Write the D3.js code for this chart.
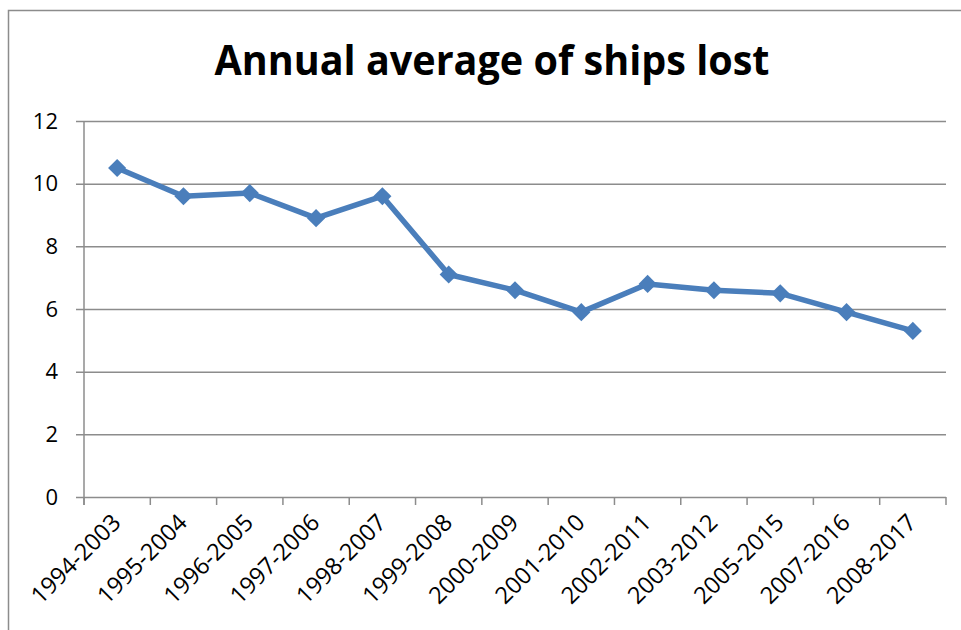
<!DOCTYPE html>
<html>
<head>
<meta charset="utf-8">
<script src="https://cdn.jsdelivr.net/npm/d3@7"></script>
<style>
  body { margin: 0; background: #fff; }
  svg { display: block; }
  text { font-family: "Open Sans", "Noto Sans", sans-serif; fill: #000; }
</style>
</head>
<body>
<div id="chart"></div>
<script>
// chart values
var periods = ["1994-2003", "1995-2004", "1996-2005", "1997-2006", "1998-2007", "1999-2008",
  "2000-2009", "2001-2010", "2002-2011", "2003-2012", "2005-2015", "2007-2016", "2008-2017"];
var shipsLost = [10.5, 9.6, 9.7, 8.9, 9.6, 7.1, 6.6, 5.9, 6.8, 6.6, 6.5, 5.9, 5.3];
var yTicks = [0, 2, 4, 6, 8, 10, 12];

var svgWidth = 961;
var svgHeight = 630;

var margin = {
  top: 121,
  right: 15,
  bottom: 133,
  left: 84
};

var chartWidth = svgWidth - margin.left - margin.right;
var chartHeight = svgHeight - margin.top - margin.bottom;

var svg = d3.select("#chart")
  .append("svg")
  .attr("width", svgWidth)
  .attr("height", svgHeight);

// outer chart frame (clipped on right / bottom like the screenshot)
svg.append("path")
  .attr("d", "M8.5,640 V10.5 H970")
  .attr("fill", "none")
  .attr("stroke", "#8c8c8c")
  .attr("stroke-width", 1.5);

svg.append("text")
  .attr("x", 492)
  .attr("y", 75)
  .attr("text-anchor", "middle")
  .attr("font-size", 42)
  .attr("font-weight", "bold")
  .attr("textLength", 555)
  .attr("lengthAdjust", "spacingAndGlyphs")
  .text("Annual average of ships lost");

var chartGroup = svg.append("g")
  .attr("transform", `translate(${margin.left}, ${margin.top})`);

var xScale = d3.scaleBand()
  .domain(periods)
  .range([0, chartWidth]);

var yScale = d3.scaleLinear()
  .domain([0, 12])
  .range([chartHeight, 0]);

// horizontal gridlines + left ticks
var leftAxis = d3.axisLeft(yScale)
  .tickValues(yTicks)
  .tickSize(-chartWidth)
  .tickPadding(26)
  .tickFormat(d3.format("d"));

var yAxis = chartGroup.append("g")
  .call(leftAxis);

yAxis.attr("font-size", null).attr("font-family", null);
yAxis.select(".domain").remove();
yAxis.selectAll(".tick line")
  .attr("x1", -8)
  .attr("stroke", "#8c8c8c")
  .attr("stroke-width", 1.5);
yAxis.selectAll(".tick text")
  .style("font-size", "22px")
  .attr("fill", "#000");

// vertical axis line
chartGroup.append("line")
  .attr("x1", 0)
  .attr("x2", 0)
  .attr("y1", 0)
  .attr("y2", chartHeight + 8)
  .attr("stroke", "#8c8c8c")
  .attr("stroke-width", 1.5);

// category tick marks on band edges
var xEdges = periods.map(d => xScale(d)).concat([chartWidth]);
chartGroup.selectAll(".xtick")
  .data(xEdges)
  .enter()
  .append("line")
  .attr("class", "xtick")
  .attr("x1", d => d)
  .attr("x2", d => d)
  .attr("y1", chartHeight)
  .attr("y2", chartHeight + 8)
  .attr("stroke", "#8c8c8c")
  .attr("stroke-width", 1.5);

// rotated category labels
chartGroup.selectAll(".xlabel")
  .data(periods)
  .enter()
  .append("text")
  .attr("class", "xlabel")
  .attr("text-anchor", "end")
  .style("font-size", "23.5px")
  .attr("transform", d => `translate(${xScale(d) + xScale.bandwidth() / 2 + 5}, ${chartHeight + 27}) rotate(-45)`)
  .text(d => d);

var cx = (d, i) => xScale(periods[i]) + xScale.bandwidth() / 2;

var line = d3.line()
  .x((d, i) => cx(d, i))
  .y(d => yScale(d));

chartGroup.append("path")
  .datum(shipsLost)
  .attr("d", line)
  .attr("fill", "none")
  .attr("stroke", "#4a7ebb")
  .attr("stroke-width", 5.5)
  .attr("stroke-linejoin", "round");

var diamond = d3.symbol().type(d3.symbolDiamond2).size(210);

chartGroup.selectAll(".marker")
  .data(shipsLost)
  .enter()
  .append("path")
  .attr("class", "marker")
  .attr("d", diamond)
  .attr("transform", (d, i) => `translate(${cx(d, i)}, ${yScale(d)})`)
  .attr("fill", "#4a7ebb");
</script>
</body>
</html>
